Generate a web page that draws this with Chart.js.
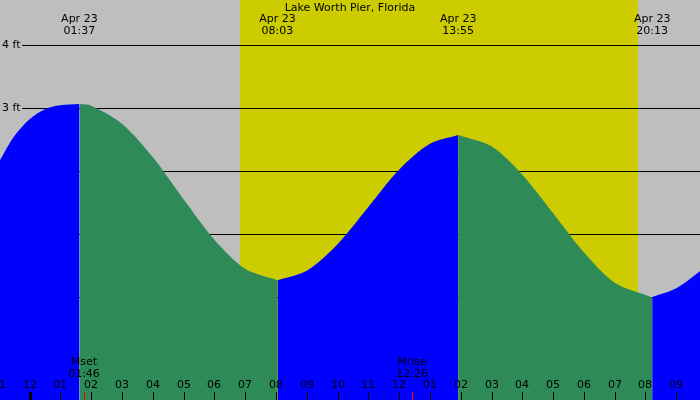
<!DOCTYPE html><html><head><script src="https://cdn.jsdelivr.net/npm/chart.js@4"></script>
<style>html,body{margin:0;padding:0;background:#bebebe}#w{width:700px;height:400px}</style></head><body><div id="w"><canvas id="c"></canvas></div>
<script>
const title = "Lake Worth Pier, Florida";
// hours since midnight Apr 23
const risingT = [-0.96,-0.5,0,0.5,1,1.617, null, 8.05,9,10,11,12,13,13.917, null, 20.217,21,21.77];
const risingH = [2.17,2.55,2.82,2.98,3.04,3.06, null, 0.27,0.42,0.84,1.43,2.02,2.43,2.57, null, 0.0,0.14,0.41];
const fallingT = [1.617,2,3,4,5,6,7,8.05, null, 13.917,15,16,17,18,19,20.217];
const fallingH = [3.06,3.035,2.75,2.22,1.55,0.91,0.45,0.27, null, 2.57,2.39,1.94,1.33,0.71,0.23,0.0];
const tideTimes = [1.617, 8.05, 13.917, 20.217];
const tideLabels = ["01:37","08:03","13:55","20:13"];
const dateLabel = "Apr 23";
const daylight = [6.83, 19.76];
const ftLevels = [0,1,2,3,4];
const hourTicks = [-1,0,1,2,3,4,5,6,7,8,9,10,11,12,13,14,15,16,17,18,19,20,21];
const hourLabels = ["11","12","01","02","03","04","05","06","07","08","09","10","11","12","01","02","03","04","05","06","07","08","09"];
const moonTimes = [1.767, 12.433];
const moonLabels = [["Mset","01:46"],["Mrise","12:26"]];

const pts=(T,H)=>T.map((t,i)=>t===null?{x:(T[i-1]+T[i+1])/2,y:null}:{x:t,y:H[i]});
const F='11px "DejaVu Sans"';
const deco={id:'deco',
beforeDatasetsDraw(ch){const c=ch.ctx,x=ch.scales.x,y=ch.scales.y;
 c.save();c.fillStyle='#bebebe';c.fillRect(0,0,700,400);
 c.fillStyle='#cccc00';c.fillRect(x.getPixelForValue(daylight[0]),0,x.getPixelForValue(daylight[1])-x.getPixelForValue(daylight[0]),400);
 c.strokeStyle='#000';c.lineWidth=1;c.font=F;c.fillStyle='#000';c.textBaseline='middle';c.textAlign='left';
 ftLevels.forEach(v=>{const py=Math.round(y.getPixelForValue(v))+0.5;c.beginPath();c.moveTo(22,py);c.lineTo(700,py);c.stroke();c.fillText(v+' ft',2,py);});
 c.restore();},
afterDraw(ch){const c=ch.ctx,x=ch.scales.x,y=ch.scales.y;c.save();c.font=F;c.fillStyle='#000';c.textAlign='center';c.textBaseline='middle';
 c.fillText(title,350,8);
 tideTimes.forEach((t,i)=>{const px=x.getPixelForValue(t);c.fillText(dateLabel,px,19);c.fillText(tideLabels[i],px,31);});
 hourTicks.forEach((h,i)=>{const px=Math.round(x.getPixelForValue(h));c.fillText(hourLabels[i],px,385);c.fillStyle='#000';c.fillRect(px-(h===0?1:0),392,h===0?3:1,8);});
 moonTimes.forEach((t,i)=>{const px=Math.round(x.getPixelForValue(t));c.fillStyle='#ff0000';c.fillRect(px,392,1,8);c.fillStyle='#000';c.fillText(moonLabels[i][0],px,362);c.fillText(moonLabels[i][1],px,374);});
 c.restore();}};
new Chart(document.getElementById('c'),{type:'line',
data:{datasets:[
 {data:pts(risingT,risingH),backgroundColor:'#0000ff',borderWidth:0,pointRadius:0,fill:'start',spanGaps:false,tension:0.3},
 {data:pts(fallingT,fallingH),backgroundColor:'#2e8b57',borderWidth:0,pointRadius:0,fill:'start',spanGaps:false,tension:0.3}]},
options:{responsive:true,maintainAspectRatio:false,animation:false,layout:{padding:0},
 plugins:{legend:{display:false},tooltip:{enabled:false}},
 scales:{x:{type:'linear',min:-0.96,max:21.77,display:false},y:{min:-1.63,max:4.71,display:false}}},
plugins:[deco]});
</script></body></html>
